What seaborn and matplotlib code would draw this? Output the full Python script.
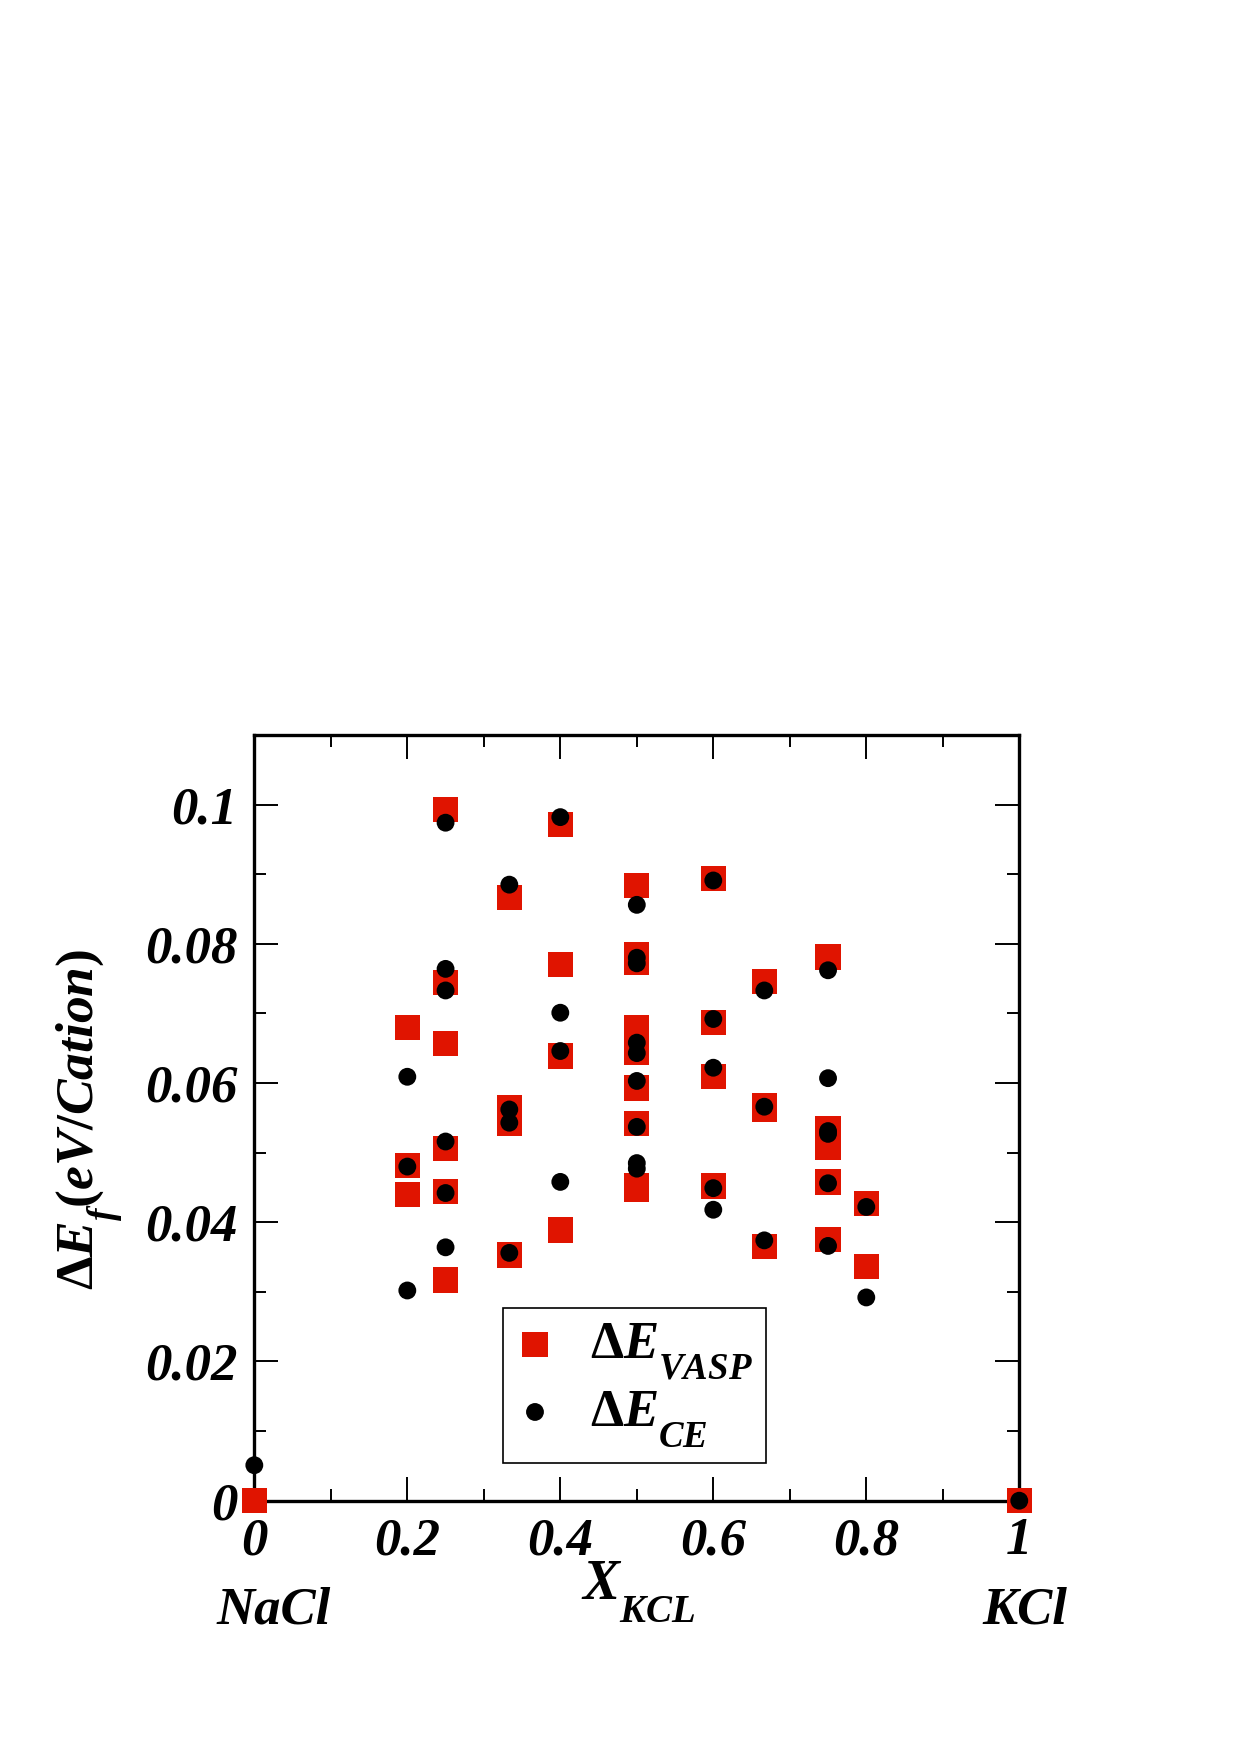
import numpy as np
import pandas as pd
import matplotlib
matplotlib.use("Agg")
import matplotlib.pyplot as plt
import seaborn as sns
from matplotlib.ticker import MultipleLocator, FixedLocator, FixedFormatter
import matplotlib._mathtext as _mt

# ---- data ----
vasp_x = [0.0,
          0.2, 0.2, 0.2,
          0.25, 0.25, 0.25, 0.25, 0.25, 0.25,
          1/3, 1/3, 1/3, 1/3,
          0.4, 0.4, 0.4, 0.4,
          0.5, 0.5, 0.5, 0.5, 0.5, 0.5, 0.5, 0.5, 0.5, 0.5,
          0.6, 0.6, 0.6, 0.6,
          2/3, 2/3, 2/3, 2/3,
          0.75, 0.75, 0.75, 0.75, 0.75,
          0.8, 0.8,
          1.0]
vasp_y = [0.0,
          0.0680, 0.0481, 0.0440,
          0.0993, 0.0744, 0.0657, 0.0506, 0.0444, 0.0317,
          0.0866, 0.0565, 0.0542, 0.0353,
          0.0971, 0.0770, 0.0639, 0.0389,
          0.0884, 0.0785, 0.0774, 0.0679, 0.0662, 0.0644, 0.0593, 0.0542, 0.0453, 0.0447,
          0.0894, 0.0687, 0.0609, 0.0452,
          0.0746, 0.0568, 0.0562, 0.0365,
          0.0781, 0.0535, 0.0507, 0.0458, 0.0375,
          0.0427, 0.0337,
          0.0]

ce_x = [0.0,
        0.2, 0.2, 0.2,
        0.25, 0.25, 0.25, 0.25, 0.25, 0.25,
        1/3, 1/3, 1/3, 1/3,
        0.4, 0.4, 0.4, 0.4,
        0.5, 0.5, 0.5, 0.5, 0.5, 0.5, 0.5, 0.5, 0.5,
        0.6, 0.6, 0.6, 0.6, 0.6,
        2/3, 2/3, 2/3,
        0.75, 0.75, 0.75, 0.75, 0.75, 0.75,
        0.8, 0.8,
        1.0]
ce_y = [0.0051,
        0.0609, 0.0480, 0.0302,
        0.0974, 0.0764, 0.0733, 0.0516, 0.0442, 0.0364,
        0.0885, 0.0562, 0.0543, 0.0356,
        0.0982, 0.0701, 0.0646, 0.0458,
        0.0856, 0.0780, 0.0772, 0.0658, 0.0643, 0.0603, 0.0537, 0.0485, 0.0477,
        0.0891, 0.0692, 0.0622, 0.0449, 0.0418,
        0.0733, 0.0566, 0.0374,
        0.0762, 0.0607, 0.0531, 0.0527, 0.0456, 0.0366,
        0.0422, 0.0292,
        0.0]

x_ticks = [0, 0.2, 0.4, 0.6, 0.8, 1.0]
x_ticklabels = ["0", "0.2", "0.4", "0.6", "0.8", "1"]
y_ticks = [0, 0.02, 0.04, 0.06, 0.08, 0.1]
y_ticklabels = ["0", "0.02", "0.04", "0.06", "0.08", "0.1"]

legend_labels = [r"$\Delta E_{VASP}$", r"$\Delta E_{CE}$"]
end_labels = ["NaCl", "KCl"]

# ---- style ----
sns.set_theme(style="white")
plt.rcParams['font.family'] = ['Liberation Serif', 'DejaVu Serif']
plt.rcParams['text.color'] = 'black'
plt.rcParams['xtick.color'] = 'black'
plt.rcParams['ytick.color'] = 'black'
plt.rcParams['mathtext.fontset'] = 'custom'
plt.rcParams['mathtext.rm'] = 'Liberation Serif:bold'
plt.rcParams['mathtext.it'] = 'Liberation Serif:bold:italic'
plt.rcParams['mathtext.bf'] = 'Liberation Serif:bold'
# lower subscripts, as in the original figure
_mt.FontConstantsBase.sub1 = 0.9
_mt.FontConstantsBase.sub2 = 0.9

RED = '#e01400'
FS = 38

fig = plt.figure(figsize=(12.4, 17.55), dpi=100)
ax = fig.add_axes([0.2051, 0.1449, 0.6169, 0.4363])

df_v = pd.DataFrame({"x": vasp_x, "y": vasp_y})
df_c = pd.DataFrame({"x": ce_x, "y": ce_y})

sns.scatterplot(data=df_v, x="x", y="y", marker="s", s=330, color=RED,
                edgecolor="none", linewidth=0, ax=ax, label=legend_labels[0],
                clip_on=False, zorder=3)
sns.scatterplot(data=df_c, x="x", y="y", marker="o", s=165, color="black",
                edgecolor="none", linewidth=0, ax=ax, label=legend_labels[1],
                clip_on=False, zorder=4)

ax.set_xlim(0, 1.0)
ax.set_ylim(0, 0.11)
ax.set_xlabel("")
ax.set_ylabel("")

ax.xaxis.set_major_locator(FixedLocator(x_ticks))
ax.xaxis.set_major_formatter(FixedFormatter(x_ticklabels))
ax.yaxis.set_major_locator(FixedLocator(y_ticks))
ax.yaxis.set_major_formatter(FixedFormatter(y_ticklabels))
ax.xaxis.set_minor_locator(MultipleLocator(0.1))
ax.yaxis.set_minor_locator(MultipleLocator(0.01))

ax.tick_params(which='both', direction='in', top=True, right=True,
               bottom=True, left=True, color='black', labelcolor='black')
ax.tick_params(which='major', length=17, width=1.4)
ax.tick_params(which='minor', length=8.5, width=1.4)
ax.tick_params(axis='x', which='major', pad=12)
ax.tick_params(axis='y', which='major', pad=12)

for lab in ax.get_xticklabels() + ax.get_yticklabels():
    lab.set_fontsize(FS)
    lab.set_fontweight('bold')
    lab.set_fontstyle('italic')
    lab.set_fontfamily('Liberation Serif')
    lab.set_color('black')

for sp in ax.spines.values():
    sp.set_linewidth(2.4)
    sp.set_color('black')
    sp.set_visible(True)

ax.grid(False)

# legend
handles, labels = ax.get_legend_handles_labels()
leg = ax.legend(handles, labels, loc='upper left',
                bbox_to_anchor=(0.3255, 0.2514), borderaxespad=0,
                fontsize=FS, frameon=True, fancybox=False, framealpha=1,
                edgecolor='black', handlelength=0.7, handletextpad=0.7,
                borderpad=0.25, labelspacing=0.12, markerscale=1.0)
leg.get_frame().set_linewidth(1.2)
for t in leg.get_texts():
    t.set_color('black')

# axis labels
fig.text(638/1240, 1 - 1592/1755, r"$X_{KCL}$", fontsize=FS + 2,
         ha='center', va='center', color='black')
fig.text(90/1240, 1 - 1119/1755, r"$\Delta E_f(eV/Cation)$", fontsize=38.5,
         ha='center', va='center', rotation=90, color='black')

# end-member labels
fig.text(274/1240, 1 - 1611/1755, end_labels[0], fontsize=FS,
         fontweight='bold', fontstyle='italic', ha='center', va='center',
         color='black')
fig.text(1025/1240, 1 - 1611/1755, end_labels[1], fontsize=FS,
         fontweight='bold', fontstyle='italic', ha='center', va='center',
         color='black')

fig.savefig("out.png", dpi=100)
